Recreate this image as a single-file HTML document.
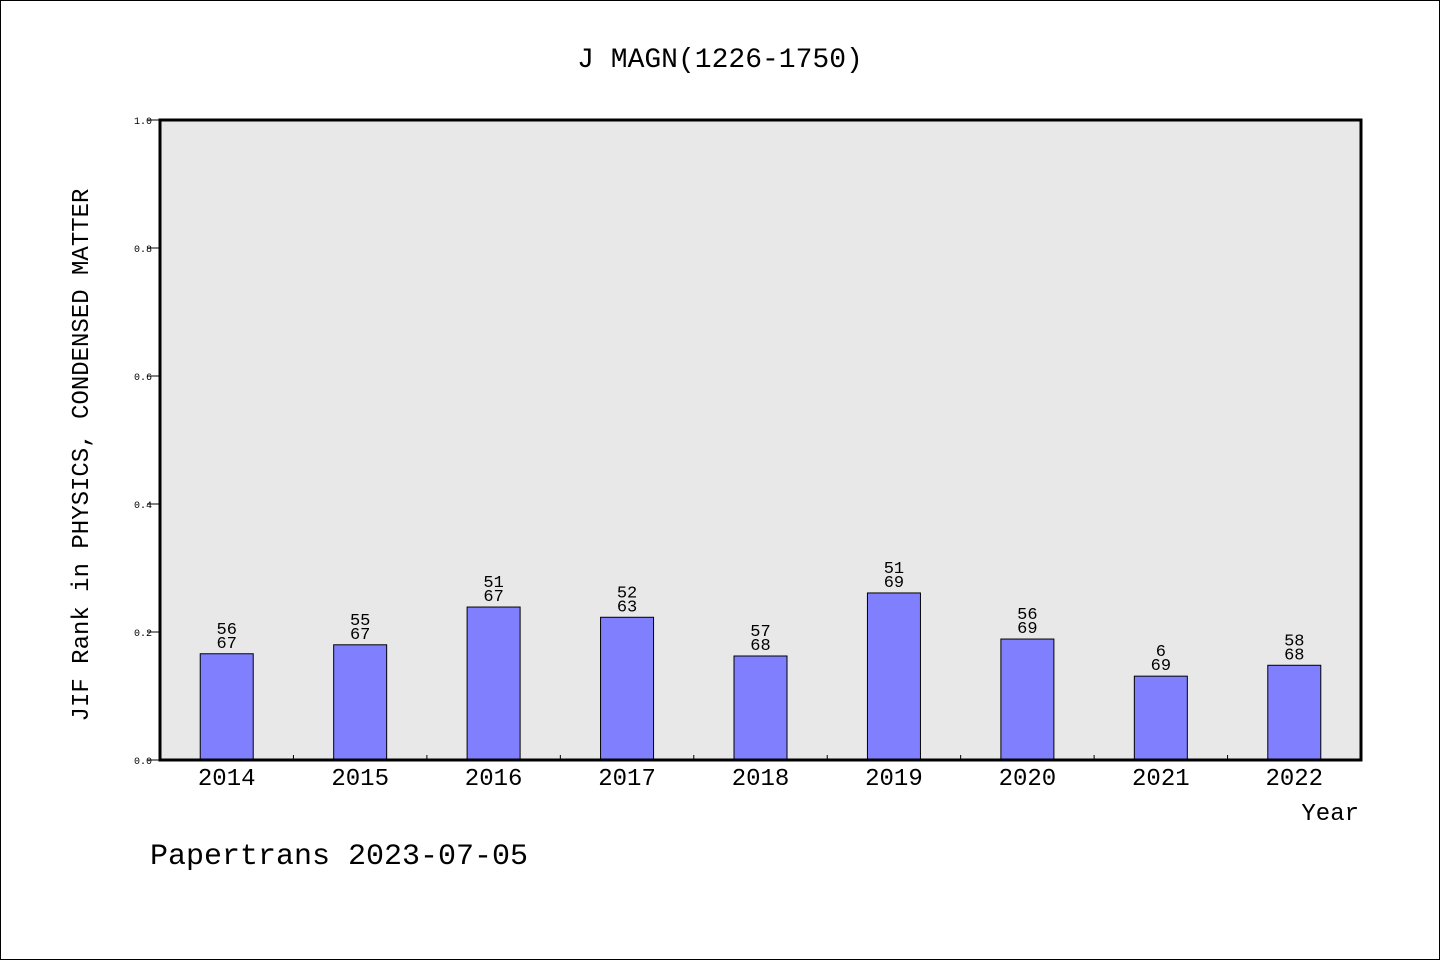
<!DOCTYPE html>
<html><head><meta charset="utf-8"><style>
body{margin:0;background:#fff}
svg{display:block;font-family:"WenQuanYi Zen Hei","Liberation Mono",monospace}
</style></head><body>
<svg width="1440" height="960">
<rect x="0.5" y="0.5" width="1439" height="959" fill="#fff" stroke="#000"/>
<text x="720" y="67" font-size="28" text-anchor="middle">J MAGN(1226-1750)</text>
<rect x="160" y="120" width="1201" height="640" fill="#e8e8e8"/>
<g id="yaxis"></g><g id="bars"></g><g id="xaxis"></g>
<rect x="160" y="120" width="1201" height="640" fill="none" stroke="#000" stroke-width="3"/>
<text transform="translate(88,455) rotate(-90)" font-size="24" text-anchor="middle">JIF Rank in PHYSICS, CONDENSED MATTER</text>
<text x="1359" y="820" font-size="24" text-anchor="end">Year</text>
<text x="150" y="864" font-size="30">Papertrans 2023-07-05</text>
</svg>
<script>
const years=["2014","2015","2016","2017","2018","2019","2020","2021","2022"];
const values=[0.166,0.180,0.239,0.223,0.1625,0.261,0.189,0.131,0.148];
const ranks=["56","55","51","52","57","51","56","6","58"];
const totals=["67","67","67","63","68","69","69","69","68"];
const yTicks=[0,0.2,0.4,0.6,0.8,1.0];
const NS="http://www.w3.org/2000/svg";
const x0=160,x1=1361,y0=760,y1=120;
const step=(x1-x0)/years.length;
const xc=i=>x0+step*(i+0.5);
const ys=v=>y0-(y0-y1)*v;
function mk(t,a,p){const e=document.createElementNS(NS,t);for(const k in a)e.setAttribute(k,a[k]);p.appendChild(e);return e;}
const ya=document.getElementById('yaxis'),ba=document.getElementById('bars'),xa=document.getElementById('xaxis');
yTicks.forEach(v=>{
 const l=mk('line',{x1:147,x2:160,y1:ys(v),y2:ys(v),stroke:'#000'},ya);
 
 
 const t=mk('text',{x:152,y:ys(v)+4,'font-size':10,'text-anchor':'end'},ya);
 t.textContent=v.toFixed(1);
 
 
});
years.forEach((yr,i)=>{
 const c=xc(i),top=ys(values[i]);
 const r=mk('rect',{x:c-26.5,y:top,width:53,height:y0-top,fill:'#8080ff',stroke:'#000','stroke-width':1},ba);
 
 
 const t1=mk('text',{x:c,y:top-20,'font-size':17,'text-anchor':'middle'},ba);
 t1.textContent=ranks[i];
 
 
 const t2=mk('text',{x:c,y:top-6,'font-size':17,'text-anchor':'middle'},ba);
 t2.textContent=totals[i];
 
 
 const xl=mk('text',{x:c,y:785,'font-size':24,'text-anchor':'middle'},xa);
 xl.textContent=yr;
 
 
 if(i>0){const tk=mk('line',{x1:x0+step*i,x2:x0+step*i,y1:y0,y2:y0-5,stroke:'#000'},xa);
 
 }
});
</script>
</body></html>
